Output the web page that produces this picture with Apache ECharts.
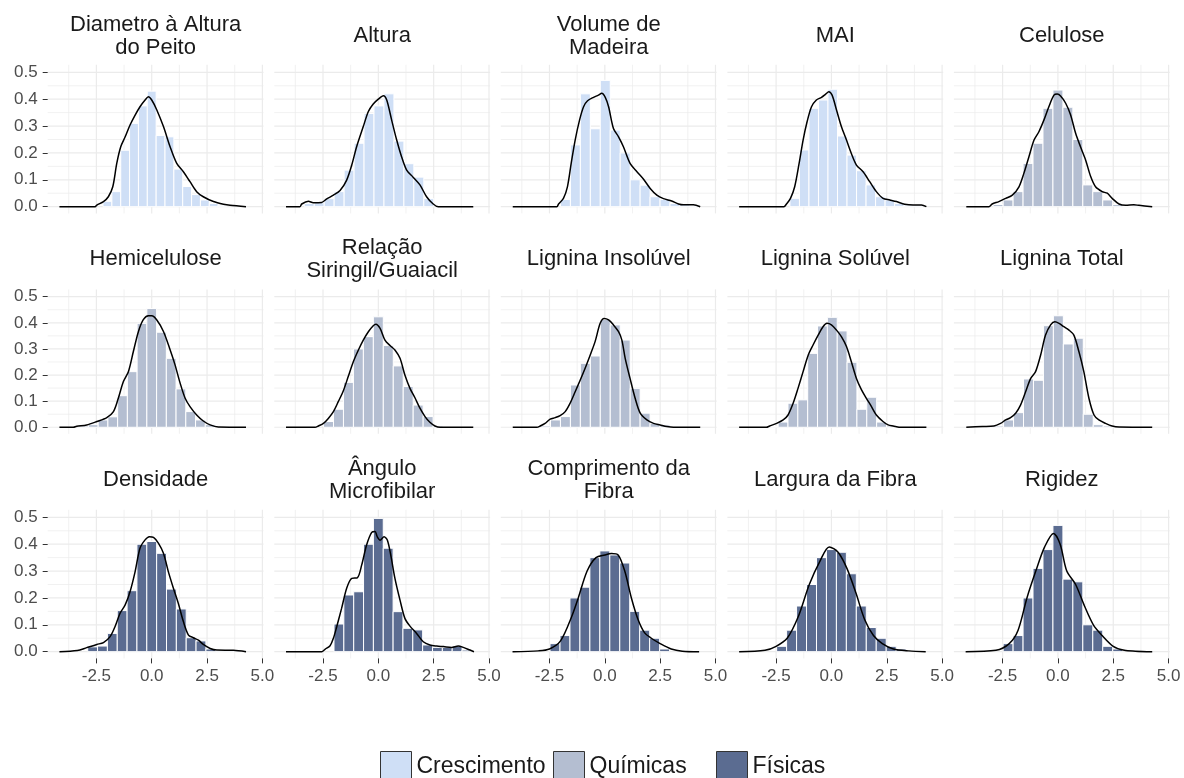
<!DOCTYPE html>
<html>
<head>
<meta charset="utf-8">
<script src="https://cdn.jsdelivr.net/npm/echarts@6/dist/echarts.min.js"></script>
<style>
html,body{margin:0;padding:0;background:#fff;}
#chart{width:1184px;height:778px;}
</style>
</head>
<body>
<div id="chart"></div>
<script>
// Facet titles, in reading order (5 per row)
const panelTitles = [
  'Diametro à Altura\ndo Peito', 'Altura', 'Volume de\nMadeira', 'MAI', 'Celulose',
  'Hemicelulose', 'Relação\nSiringil/Guaiacil', 'Lignina Insolúvel', 'Lignina Solúvel', 'Lignina Total',
  'Densidade', 'Ângulo\nMicrofibilar', 'Comprimento da\nFibra', 'Largura da Fibra', 'Rigidez'
];
const groupNames = ['Crescimento', 'Químicas', 'Físicas'];
const panelGroup = [0, 0, 0, 0, 1, 1, 1, 1, 1, 1, 2, 2, 2, 2, 2];

// Tick values
const xTicks = [-2.5, 0, 2.5, 5];
const xMinor = [-3.75, -1.25, 1.25, 3.75];
const yTicks = [0, 0.1, 0.2, 0.3, 0.4, 0.5];
const yMinor = [0.05, 0.15, 0.25, 0.35, 0.45];

// Histogram bins: centre of first bin, bin width, density of each bin
const binFirstCenter = [-2.0, -3.12, -1.78, -1.66, -2.7, -3.08, -2.25, -2.68, -2.63, -3.13, -2.67, -1.78, -2.25, -2.25, -2.25];
const binWidth = [0.4, 0.45, 0.45, 0.43, 0.45, 0.44, 0.45, 0.45, 0.445, 0.45, 0.445, 0.445, 0.45, 0.45, 0.45];

const barsDap = [0.02, 0.056, 0.21, 0.31, 0.375, 0.43, 0.265, 0.26, 0.14, 0.075, 0.045, 0.025, 0.012, 0.005];
const barsAltura = [0.012, 0.015, 0.03, 0.056, 0.136, 0.236, 0.347, 0.375, 0.42, 0.244, 0.16, 0.11, 0.03];
const barsVolume = [0.027, 0.23, 0.42, 0.29, 0.47, 0.285, 0.2, 0.1, 0.08, 0.037, 0.027, 0.012, 0.008, 0.005];
const barsMai = [0.031, 0.211, 0.366, 0.397, 0.437, 0.263, 0.192, 0.134, 0.081, 0.037, 0.025, 0.012, 0.006, 0.006];
const barsCelulose = [0.008, 0.025, 0.056, 0.161, 0.236, 0.366, 0.434, 0.37, 0.25, 0.081, 0.056, 0.025, 0.008, 0, 0.006];
const barsHemi = [0.005, 0.01, 0.028, 0.04, 0.121, 0.213, 0.398, 0.455, 0.364, 0.264, 0.147, 0.06, 0.028, 0.01];
const barsSg = [0.022, 0.069, 0.172, 0.3, 0.347, 0.423, 0.313, 0.235, 0.156, 0.085, 0.041, 0.005];
const barsLigInsol = [0.005, 0.028, 0.041, 0.162, 0.245, 0.273, 0.413, 0.392, 0.334, 0.149, 0.054, 0.015, 0.009];
const barsLigSol = [0.003, 0.02, 0.092, 0.105, 0.283, 0.388, 0.421, 0.369, 0.249, 0.069, 0.115, 0.02, 0.005];
const barsLigTotal = [0.003, 0.005, 0.028, 0.056, 0.185, 0.18, 0.389, 0.427, 0.319, 0.341, 0.05, 0.01, 0.005];
const barsDens = [0.018, 0.021, 0.068, 0.153, 0.227, 0.4, 0.41, 0.366, 0.233, 0.159, 0.052, 0.04, 0.01, 0.003, 0.003, 0.003];
const barsAngulo = [0.103, 0.211, 0.223, 0.4, 0.496, 0.385, 0.149, 0.087, 0.081, 0.025, 0.016, 0.016, 0.021, 0.006];
const barsComp = [0.03, 0.06, 0.2, 0.24, 0.35, 0.375, 0.36, 0.33, 0.15, 0.08, 0.05, 0.01];
const barsLarg = [0.02, 0.08, 0.17, 0.25, 0.35, 0.38, 0.37, 0.29, 0.17, 0.09, 0.05, 0.02, 0.01];
const barsRig = [0.03, 0.06, 0.2, 0.31, 0.38, 0.47, 0.27, 0.26, 0.1, 0.08, 0.02, 0.01];

// Kernel density curves, [x, density]
const densDap = [[-4.17,0],[-2.56,0],[-2.48,0.006],[-2.18,0.019],[-1.96,0.037],[-1.76,0.074],[-1.58,0.161],[-1.4,0.223],[-1.2,0.26],[-0.98,0.304],[-0.75,0.341],[-0.53,0.372],[-0.3,0.397],[-0.15,0.409],[0,0.397],[0.23,0.36],[0.53,0.298],[0.83,0.223],[1.13,0.161],[1.43,0.13],[1.73,0.093],[2.03,0.056],[2.33,0.037],[2.79,0.019],[3.24,0.009],[3.54,0.005],[4.26,0]];
const densAltura = [[-4.17,0],[-3.54,0],[-3.46,0.01],[-3.16,0.02],[-2.94,0.015],[-2.56,0.016],[-2.33,0.029],[-2.03,0.043],[-1.73,0.06],[-1.43,0.099],[-1.2,0.155],[-0.98,0.223],[-0.68,0.298],[-0.45,0.354],[-0.23,0.382],[0,0.4],[0.23,0.413],[0.38,0.397],[0.6,0.323],[0.83,0.248],[1.05,0.186],[1.28,0.136],[1.58,0.109],[1.88,0.081],[2.18,0.037],[2.48,0.01],[2.71,0],[4.29,0]];
const densVolume = [[-4.16,0],[-2.17,0],[-2.09,0.01],[-1.87,0.031],[-1.69,0.074],[-1.52,0.161],[-1.34,0.248],[-1.14,0.323],[-0.96,0.372],[-0.78,0.394],[-0.51,0.407],[-0.29,0.415],[-0.14,0.422],[0.02,0.407],[0.17,0.372],[0.39,0.291],[0.62,0.26],[0.84,0.223],[1.14,0.161],[1.45,0.13],[1.75,0.102],[2.05,0.068],[2.35,0.043],[2.65,0.03],[3.02,0.021],[3.33,0.01],[3.55,0.007],[4.0,0.007],[4.31,0]];
const densMai = [[-4.17,0],[-2.15,0],[-2.03,0.01],[-1.85,0.031],[-1.66,0.074],[-1.46,0.161],[-1.28,0.248],[-1.1,0.316],[-0.9,0.372],[-0.68,0.397],[-0.45,0.407],[-0.26,0.419],[-0.12,0.428],[0.03,0.415],[0.23,0.36],[0.45,0.298],[0.68,0.248],[0.9,0.198],[1.13,0.155],[1.43,0.13],[1.73,0.093],[2.03,0.056],[2.33,0.031],[2.64,0.025],[2.94,0.019],[3.31,0.009],[3.69,0.006],[4.07,0.006],[4.29,0]];
const densCelulose = [[-4.14,0],[-3.12,0],[-2.97,0.01],[-2.67,0.019],[-2.36,0.031],[-2.06,0.043],[-1.76,0.074],[-1.54,0.124],[-1.31,0.186],[-1.08,0.248],[-0.86,0.279],[-0.63,0.323],[-0.41,0.372],[-0.18,0.415],[-0.03,0.419],[0.12,0.412],[0.35,0.385],[0.57,0.342],[0.8,0.273],[1.02,0.223],[1.25,0.174],[1.48,0.112],[1.7,0.074],[2.0,0.056],[2.23,0.05],[2.45,0.031],[2.76,0.01],[3.06,0.005],[3.43,0.007],[3.66,0.005],[4.26,0]];
const densHemi = [[-4.17,0],[-3.54,0],[-3.39,0.004],[-2.94,0.009],[-2.48,0.022],[-2.03,0.037],[-1.73,0.06],[-1.51,0.111],[-1.28,0.175],[-1.05,0.214],[-0.83,0.29],[-0.6,0.367],[-0.38,0.412],[-0.15,0.427],[0,0.427],[0.23,0.411],[0.53,0.367],[0.83,0.297],[1.05,0.24],[1.28,0.17],[1.51,0.111],[1.73,0.079],[2.03,0.047],[2.33,0.024],[2.64,0.009],[3.01,0.001],[4.26,0]];
const densSg = [[-4.17,0],[-2.86,0],[-2.71,0.005],[-2.48,0.015],[-2.26,0.034],[-2.03,0.06],[-1.81,0.098],[-1.58,0.14],[-1.36,0.194],[-1.13,0.251],[-0.9,0.296],[-0.68,0.334],[-0.45,0.366],[-0.23,0.389],[-0.11,0.395],[0.08,0.379],[0.3,0.334],[0.53,0.313],[0.75,0.296],[0.98,0.264],[1.2,0.2],[1.43,0.149],[1.66,0.112],[1.88,0.073],[2.11,0.041],[2.33,0.019],[2.56,0.005],[2.79,0],[4.29,0]];
const densLigInsol = [[-4.16,0],[-3.07,0],[-2.92,0.005],[-2.7,0.015],[-2.47,0.031],[-2.24,0.037],[-2.02,0.045],[-1.79,0.06],[-1.57,0.092],[-1.34,0.136],[-1.11,0.181],[-0.89,0.226],[-0.66,0.277],[-0.44,0.328],[-0.21,0.398],[-0.03,0.417],[0.17,0.411],[0.39,0.392],[0.62,0.366],[0.77,0.334],[0.92,0.264],[1.14,0.187],[1.37,0.111],[1.6,0.054],[1.9,0.028],[2.2,0.015],[2.5,0.009],[2.8,0.003],[3.1,0],[4.31,0]];
const densLigSol = [[-4.17,0],[-2.94,0],[-2.79,0.005],[-2.48,0.015],[-2.18,0.028],[-1.96,0.047],[-1.73,0.092],[-1.51,0.149],[-1.28,0.213],[-1.05,0.276],[-0.83,0.315],[-0.6,0.353],[-0.38,0.385],[-0.2,0.398],[0,0.392],[0.23,0.372],[0.45,0.347],[0.68,0.309],[0.9,0.251],[1.13,0.187],[1.36,0.143],[1.58,0.111],[1.81,0.079],[2.03,0.047],[2.33,0.022],[2.56,0.009],[2.79,0.005],[3.16,0],[4.29,0]];
const densLigTotal = [[-4.14,0],[-3.42,0.003],[-2.89,0.005],[-2.59,0.015],[-2.36,0.028],[-2.14,0.037],[-1.91,0.054],[-1.69,0.085],[-1.46,0.136],[-1.23,0.187],[-1.01,0.213],[-0.78,0.277],[-0.56,0.353],[-0.33,0.392],[-0.14,0.404],[0.05,0.398],[0.27,0.385],[0.5,0.372],[0.72,0.353],[0.95,0.289],[1.17,0.213],[1.4,0.111],[1.63,0.047],[1.85,0.028],[2.15,0.015],[2.45,0.005],[2.76,0.001],[4.26,0]];
const densDens = [[-4.17,0],[-3.36,0.004],[-2.94,0.015],[-2.48,0.027],[-2.18,0.034],[-1.88,0.056],[-1.66,0.093],[-1.43,0.143],[-1.2,0.174],[-0.98,0.223],[-0.75,0.298],[-0.53,0.385],[-0.3,0.416],[-0.11,0.428],[0.08,0.425],[0.3,0.404],[0.53,0.366],[0.75,0.298],[0.98,0.236],[1.2,0.18],[1.43,0.112],[1.66,0.062],[1.88,0.052],[2.11,0.043],[2.33,0.027],[2.64,0.012],[2.94,0.006],[3.69,0.005],[4.26,0]];
const densAngulo = [[-4.17,0],[-2.56,0],[-2.41,0.009],[-2.18,0.022],[-2.03,0.05],[-1.88,0.093],[-1.66,0.161],[-1.43,0.236],[-1.2,0.273],[-0.95,0.275],[-0.75,0.323],[-0.53,0.397],[-0.3,0.444],[-0.15,0.447],[-0.05,0.428],[0.08,0.415],[0.26,0.428],[0.41,0.415],[0.56,0.36],[0.75,0.273],[0.98,0.192],[1.2,0.124],[1.43,0.095],[1.73,0.068],[2.03,0.037],[2.33,0.025],[2.64,0.021],[2.94,0.019],[3.31,0.016],[3.61,0.021],[3.84,0.016],[4.14,0.006],[4.32,0]];
const densComp = [[-4.17,0],[-3.0,0.003],[-2.5,0.01],[-2.0,0.04],[-1.5,0.13],[-1.2,0.2],[-0.8,0.3],[-0.4,0.35],[0,0.36],[0.3,0.365],[0.6,0.36],[0.9,0.3],[1.2,0.2],[1.5,0.12],[1.8,0.07],[2.1,0.05],[2.5,0.03],[3.0,0.01],[3.5,0.002],[4.26,0]];
const densLarg = [[-4.17,0],[-3.0,0.005],[-2.5,0.02],[-2.0,0.05],[-1.5,0.13],[-1.0,0.25],[-0.5,0.34],[-0.1,0.39],[0.3,0.37],[0.7,0.31],[1.1,0.22],[1.5,0.12],[1.9,0.06],[2.3,0.03],[2.8,0.01],[3.5,0.003],[4.26,0]];
const densRig = [[-4.17,0],[-2.8,0.005],[-2.2,0.03],[-1.8,0.08],[-1.4,0.2],[-1.0,0.3],[-0.6,0.39],[-0.2,0.44],[0.1,0.4],[0.4,0.3],[0.8,0.25],[1.2,0.17],[1.6,0.1],[2.0,0.06],[2.5,0.02],[3.0,0.005],[3.5,0.002],[4.26,0]];

const panelBars = [barsDap, barsAltura, barsVolume, barsMai, barsCelulose, barsHemi, barsSg, barsLigInsol, barsLigSol, barsLigTotal, barsDens, barsAngulo, barsComp, barsLarg, barsRig];
const panelDensity = [densDap, densAltura, densVolume, densMai, densCelulose, densHemi, densSg, densLigInsol, densLigSol, densLigTotal, densDens, densAngulo, densComp, densLarg, densRig];

// ---- layout and styling ----
const groupColors = ['#cfdff6', '#b4bed1', '#5b6c91'];
const gridColor = '#ebebeb';
const textColor = '#4d4d4d';
const fontFamily = '"Liberation Sans", Arial, sans-serif';
const colLeft = [47.7, 274.3, 500.8, 727.4, 953.9];
const panelWidth = 215.8;
const rowTop = [64.8, 289.4, 509.8];
const rowHeight = [148.6, 144.4, 148.6];
const titleY = [36, 259, 480];
const xMin = -4.7, xMax = 5.05, yMin = -0.025, yMax = 0.528;

const grids = [], xAxes = [], yAxes = [], series = [], graphics = [];

for (let i = 0; i < 15; i++) {
  const r = Math.floor(i / 5), c = i % 5;
  grids.push({ left: colLeft[c], top: rowTop[r], width: panelWidth, height: rowHeight[r] });
  xAxes.push({
    gridIndex: i, type: 'value', min: xMin, max: xMax, position: 'bottom',
    axisLine: { show: false, onZero: false },
    splitLine: { show: false },
    axisTick: { show: r === 2, customValues: xTicks, length: 5, lineStyle: { color: '#333', width: 1 } },
    axisLabel: {
      show: r === 2, customValues: xTicks, margin: 9,
      color: textColor, fontSize: 17, fontFamily,
      formatter: v => v.toFixed(1)
    }
  });
  yAxes.push({
    gridIndex: i, type: 'value', min: yMin, max: yMax, position: 'left',
    axisLine: { show: false, onZero: false },
    splitLine: { show: false },
    axisTick: { show: c === 0, customValues: yTicks, length: 5, lineStyle: { color: '#333', width: 1 } },
    axisLabel: {
      show: c === 0, customValues: yTicks, margin: 10,
      color: textColor, fontSize: 17, fontFamily,
      formatter: v => v.toFixed(1)
    }
  });

  // panel grid lines (major + minor)
  const lines = [];
  xTicks.forEach(v => lines.push([v, 0]));
  xMinor.forEach(v => lines.push([v, 1]));
  yTicks.forEach(v => lines.push([v, 2]));
  yMinor.forEach(v => lines.push([v, 3]));
  series.push({
    type: 'custom', xAxisIndex: i, yAxisIndex: i, silent: true, z: 0,
    data: lines,
    renderItem: (params, api) => {
      const v = api.value(0), kind = api.value(1);
      const cs = params.coordSys;
      const w = (kind === 0 || kind === 2) ? 1.2 : 0.7;
      if (kind < 2) {
        const p = api.coord([v, 0]);
        return { type: 'line', shape: { x1: p[0], y1: cs.y, x2: p[0], y2: cs.y + cs.height }, style: { stroke: gridColor, lineWidth: w } };
      }
      const p = api.coord([0, v]);
      return { type: 'line', shape: { x1: cs.x, y1: p[1], x2: cs.x + cs.width, y2: p[1] }, style: { stroke: gridColor, lineWidth: w } };
    }
  });

  // histogram
  const g = panelGroup[i];
  const bw = binWidth[i];
  const bins = panelBars[i].map((h, k) => {
    const ctr = binFirstCenter[i] + k * bw;
    return [ctr - bw / 2, ctr + bw / 2, h];
  });
  series.push({
    type: 'custom', name: groupNames[g], xAxisIndex: i, yAxisIndex: i, z: 2,
    itemStyle: { color: groupColors[g] },
    encode: { x: [0, 1], y: 2 },
    data: bins,
    renderItem: (params, api) => {
      const p0 = api.coord([api.value(0), api.value(2)]);
      const p1 = api.coord([api.value(1), 0]);
      return {
        type: 'rect',
        shape: { x: p0[0], y: p0[1], width: p1[0] - p0[0], height: p1[1] - p0[1] },
        style: { fill: groupColors[g], stroke: '#ffffff', lineWidth: 1 }
      };
    }
  });

  // density curve
  series.push({
    type: 'line', xAxisIndex: i, yAxisIndex: i, z: 3,
    data: panelDensity[i], showSymbol: false, smooth: 0.3, silent: true,
    lineStyle: { color: '#000', width: 1.5 }
  });

  // facet title
  graphics.push({
    type: 'text', x: colLeft[c] + panelWidth / 2, y: titleY[r],
    style: {
      text: panelTitles[i], fill: '#1a1a1a', font: '22px ' + fontFamily,
      textAlign: 'center', textVerticalAlign: 'middle', lineHeight: 23
    }
  });
}

const legendLeft = [375, 548, 711];
const legends = groupNames.map((name, k) => ({
  data: [name], left: legendLeft[k], top: 746,
  icon: 'rect', itemWidth: 31, itemHeight: 31,
  itemStyle: { borderColor: '#333', borderWidth: 1 },
  textStyle: { fontSize: 23, color: '#1a1a1a', fontFamily },
  selectedMode: false
}));

const chart = echarts.init(document.getElementById('chart'), null, { renderer: 'canvas' });
chart.setOption({
  animation: false,
  backgroundColor: '#fff',
  grid: grids, xAxis: xAxes, yAxis: yAxes,
  legend: legends,
  graphic: graphics,
  series
});
</script>
</body>
</html>
